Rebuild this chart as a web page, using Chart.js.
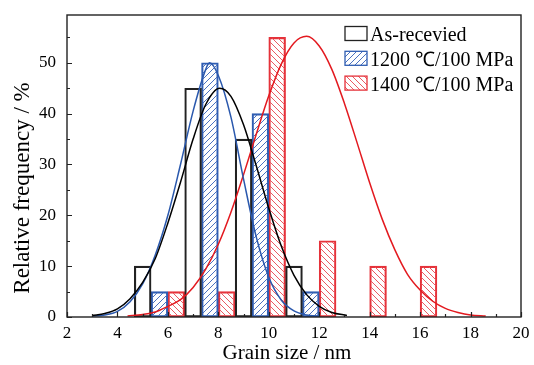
<!DOCTYPE html>
<html><head><meta charset="utf-8">
<script src="https://cdn.jsdelivr.net/npm/chart.js@4.4.0/dist/chart.umd.min.js"></script>
<style>html,body{margin:0;padding:0;background:#fff;}canvas{display:block;}</style>
</head><body>
<canvas id="c" width="534" height="365"></canvas>
<script>
// ---- data ----
const seriesNames = ['As-recevied', '1200 \u2103/100 MPa', '1400 \u2103/100 MPa'];
const xTitle = 'Grain size / nm';
const yTitle = 'Relative frequency / %';

const asReceivedX = [5, 7, 9, 11];
const asReceivedFreq = [10, 45, 35, 10];
const hip1200X = [5.667, 7.667, 9.667, 11.667];
const hip1200Freq = [5, 50, 40, 5];
const hip1400X = [6.333, 8.333, 10.333, 12.333, 14.333, 16.333];
const hip1400Freq = [5, 5, 55, 15, 10, 10];

const asReceivedFitX = [3.0, 3.5, 4.0, 4.5, 5.0, 5.5, 6.0, 6.5, 7.0, 7.5, 8.05, 8.5, 9.0, 9.5, 10.0, 10.5, 11.0, 11.5, 12.0, 12.5, 13.1];
const asReceivedFitY = [0.3, 0.7, 1.6, 3.6, 6.8, 11.5, 18.5, 26.5, 35.0, 41.8, 45.0, 43.4, 37.8, 29.8, 21.4, 13.9, 8.2, 4.4, 2.1, 0.9, 0.3];
const hip1200FitX = [3.0, 3.5, 4.0, 4.5, 5.0, 5.5, 6.0, 6.5, 7.0, 7.5, 7.65, 8.0, 8.5, 9.0, 9.5, 10.0, 10.5, 11.0, 11.5, 12.0];
const hip1200FitY = [0.2, 0.4, 1.1, 3.0, 6.5, 12.2, 20.0, 30.0, 40.5, 48.7, 50.0, 47.5, 39.3, 27.1, 15.8, 7.8, 3.3, 1.2, 0.4, 0.1];
const hip1400FitX = [4.4, 5.0, 5.5, 6.0, 6.5, 7.0, 7.5, 8.0, 8.5, 9.0, 9.5, 10.0, 10.5, 11.0, 11.5, 12.0, 12.5, 13.0, 13.5, 14.0, 14.5, 15.0, 15.5, 16.0, 16.5, 17.0, 17.5, 18.0, 18.6];
const hip1400FitY = [0.2, 0.5, 1.0, 2.1, 3.4, 5.8, 9.4, 14.3, 20.6, 28.0, 35.9, 43.5, 49.8, 53.9, 55.2, 53.3, 48.7, 42.0, 34.3, 26.4, 19.2, 13.2, 8.4, 5.3, 3.1, 1.7, 0.9, 0.4, 0.2];

const xTicks = [2, 4, 6, 8, 10, 12, 14, 16, 18, 20];
const xMinorTicks = [3, 5, 7, 9, 11, 13, 15, 17, 19];
const yTicks = [0, 10, 20, 30, 40, 50];
const yMinorTicks = [5, 15, 25, 35, 45, 55];

// ---- styles ----
const FONT = "'Liberation Serif', 'Times New Roman', serif";
const BLACK = '#222222', BLUE = '#2f5db2', RED = '#e5323a';

function hatch(color, forward) {
  const s = 6, c = document.createElement('canvas');
  c.width = s; c.height = s;
  const g = c.getContext('2d');
  g.strokeStyle = color; g.lineWidth = 1;
  g.beginPath();
  if (forward) {
    g.moveTo(0, s); g.lineTo(s, 0);
    g.moveTo(-1, 1); g.lineTo(1, -1);
    g.moveTo(s - 1, s + 1); g.lineTo(s + 1, s - 1);
  } else {
    g.moveTo(0, 0); g.lineTo(s, s);
    g.moveTo(-1, s - 1); g.lineTo(1, s + 1);
    g.moveTo(s - 1, -1); g.lineTo(s + 1, 1);
  }
  g.stroke();
  return g.createPattern(c, 'repeat');
}
const bluePattern = hatch('#4a72c0', true);
const redPattern = hatch('#ea5a62', false);

const pts = (xs, ys) => xs.map((v, i) => ({x: v, y: ys[i]}));

const barCommon = {type: 'bar', grouped: false, barPercentage: 1, categoryPercentage: 1, borderWidth: 1.5, borderSkipped: false, order: 2};
const lineCommon = {type: 'line', pointRadius: 0, borderWidth: 1.5, fill: false, cubicInterpolationMode: 'monotone', order: 1};

const datasets = [
  Object.assign({label: seriesNames[0], data: pts(asReceivedX, asReceivedFreq), backgroundColor: 'rgba(255,255,255,0)', borderColor: BLACK}, barCommon),
  Object.assign({label: seriesNames[1], data: pts(hip1200X, hip1200Freq), backgroundColor: bluePattern, borderColor: BLUE}, barCommon),
  Object.assign({label: seriesNames[2], data: pts(hip1400X, hip1400Freq), backgroundColor: redPattern, borderColor: RED}, barCommon),
  Object.assign({label: 'fit0', data: pts(asReceivedFitX, asReceivedFitY), borderColor: '#000000'}, lineCommon),
  Object.assign({label: 'fit1', data: pts(hip1200FitX, hip1200FitY), borderColor: '#2a58ad'}, lineCommon),
  Object.assign({label: 'fit2', data: pts(hip1400FitX, hip1400FitY), borderColor: '#e3191f'}, lineCommon)
];

const decor = {
  id: 'decor',
  beforeDraw(chart) {
    const {ctx, width, height} = chart;
    ctx.save(); ctx.fillStyle = '#fff'; ctx.fillRect(0, 0, width, height); ctx.restore();
  },
  afterDraw(chart) {
    const {ctx, chartArea: a} = chart;
    const x = chart.scales.x, y = chart.scales.y;
    ctx.save();
    ctx.strokeStyle = BLACK; ctx.lineWidth = 1.4;
    ctx.strokeRect(a.left, a.top, a.right - a.left, a.bottom - a.top);
    ctx.lineWidth = 1.2;
    ctx.beginPath();
    xTicks.forEach(v => { const p = Math.round(x.getPixelForValue(v)) + 0.5; ctx.moveTo(p, a.bottom); ctx.lineTo(p, a.bottom - 5); });
    xMinorTicks.forEach(v => { const p = Math.round(x.getPixelForValue(v)) + 0.5; ctx.moveTo(p, a.bottom); ctx.lineTo(p, a.bottom - 3); });
    yTicks.forEach(v => { const p = Math.round(y.getPixelForValue(v)) + 0.5; ctx.moveTo(a.left, p); ctx.lineTo(a.left + 5, p); });
    yMinorTicks.forEach(v => { const p = Math.round(y.getPixelForValue(v)) + 0.5; ctx.moveTo(a.left, p); ctx.lineTo(a.left + 3, p); });
    ctx.stroke();

    // axis titles
    ctx.fillStyle = '#000';
    ctx.textAlign = 'center'; ctx.textBaseline = 'alphabetic';
    ctx.font = '21px ' + FONT;
    ctx.fillText(xTitle, 287, 359);
    ctx.save();
    ctx.font = '23px ' + FONT;
    ctx.translate(29, 188); ctx.rotate(-Math.PI / 2);
    ctx.fillText(yTitle, 0, 0);
    ctx.restore();

    // legend
    ctx.font = '20px ' + FONT;
    ctx.textAlign = 'left';
    for (let i = 0; i < 3; i++) {
      const ds = chart.data.datasets[i];
      const bx = 345, by = 26.5 + i * 24.8;
      ctx.fillStyle = ds.backgroundColor;
      ctx.fillRect(bx, by, 22, 14);
      ctx.strokeStyle = ds.borderColor; ctx.lineWidth = 1.3;
      ctx.strokeRect(bx, by, 22, 14);
      ctx.fillStyle = '#000';
      ctx.fillText(ds.label, 370, by + 14.5);
    }
    ctx.restore();
  }
};

new Chart(document.getElementById('c'), {
  type: 'bar',
  data: {datasets},
  options: {
    responsive: false,
    animation: false,
    devicePixelRatio: 1,
    layout: {padding: {top: 15, right: 13, left: 0, bottom: 0}},
    plugins: {legend: {display: false}, tooltip: {enabled: false}},
    scales: {
      x: {
        type: 'linear', min: 2, max: 20, offset: false,
        grid: {display: false, drawTicks: false, offset: false},
        border: {display: false},
        afterBuildTicks: s => { s.ticks = xTicks.map(v => ({value: v})); },
        afterFit: s => { s.height = 48; s.paddingLeft = 0; s.paddingRight = 0; },
        ticks: {font: {family: FONT, size: 17}, color: '#000', padding: 6, maxRotation: 0, autoSkip: false}
      },
      y: {
        type: 'linear', min: 0, max: 59.4,
        grid: {display: false, drawTicks: false},
        border: {display: false},
        afterBuildTicks: s => { s.ticks = yTicks.map(v => ({value: v})); },
        afterFit: s => { s.width = 67; s.paddingTop = 0; s.paddingBottom = 0; },
        ticks: {font: {family: FONT, size: 17}, color: '#000', padding: 11}
      }
    }
  },
  plugins: [decor]
});
</script>
</body></html>
